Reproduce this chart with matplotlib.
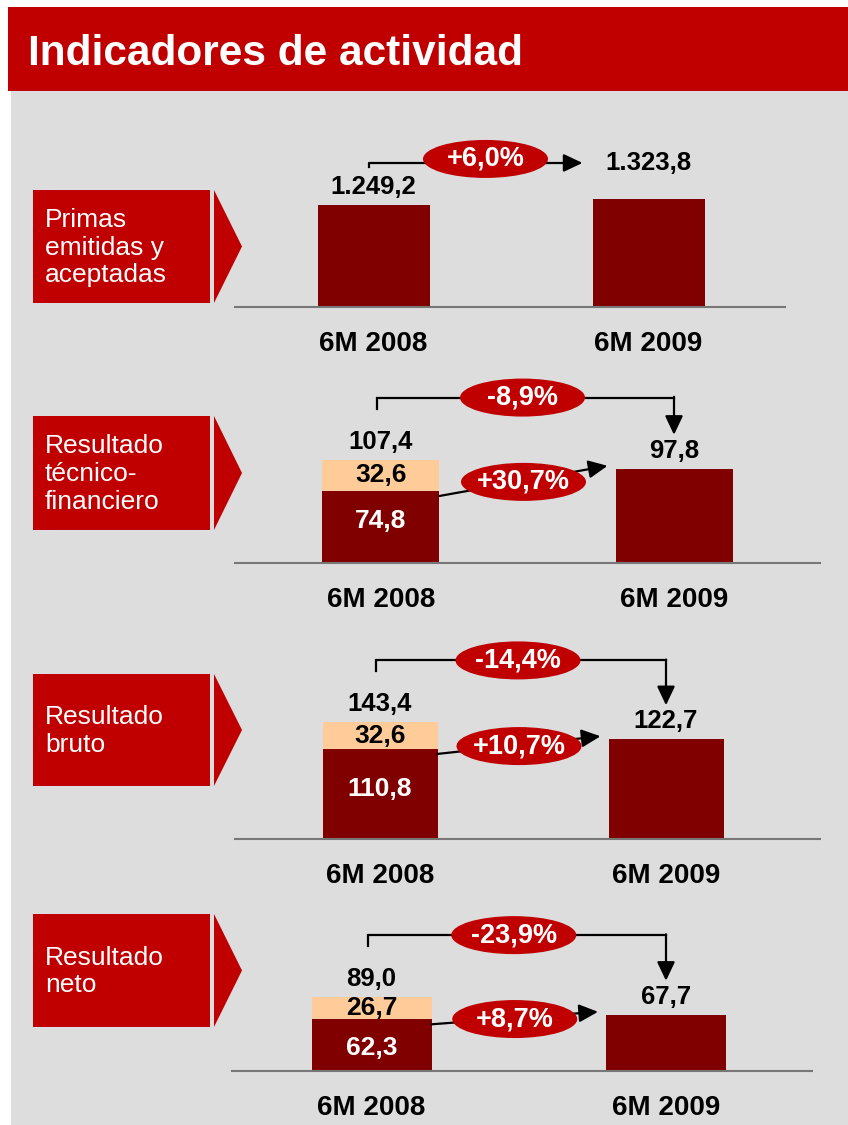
import matplotlib
matplotlib.use("Agg")
import matplotlib.pyplot as plt
from matplotlib.patches import Rectangle, Polygon, Ellipse

plt.rcParams['font.family'] = ['Liberation Sans', 'DejaVu Sans']

# data
title = "Indicadores de actividad"
categories = ["6M 2008", "6M 2009"]
row_names = ["Primas\nemitidas y\naceptadas", "Resultado\ntécnico-\nfinanciero",
             "Resultado\nbruto", "Resultado\nneto"]
prev_base = [1249.2, 74.8, 110.8, 62.3]
prev_extra = [0.0, 32.6, 32.6, 26.7]
prev_total = [1249.2, 107.4, 143.4, 89.0]
curr_values = [1323.8, 97.8, 122.7, 67.7]
growth_total = ["+6,0%", "-8,9%", "-14,4%", "-23,9%"]
growth_base = [None, "+30,7%", "+10,7%", "+8,7%"]

# colours
RED = '#C00000'
DARK = '#800000'
LIGHT = '#FFCC99'
GREY_BG = '#DDDDDD'

W, H = 848, 1125

# layout of each row, in pixels: baseline, left, right, bar centres, bar width, px per unit
rows = [
    dict(base=307, left=235, right=785, c0=373.5, c1=648.5, bw=112, scale=0.0817, box=(190, 303)),
    dict(base=563, left=235, right=820, c0=381, c1=674, bw=117, scale=0.963, box=(416, 530)),
    dict(base=839, left=235, right=820, c0=380, c1=666, bw=115, scale=0.813, box=(674, 786)),
    dict(base=1071, left=232, right=812, c0=371.5, c1=666, bw=120, scale=0.83, box=(914, 1027)),
]
# vertical nudge of the white label inside the dark segment
inner_off = [0, 6, 5, -3]


def fmt(v):
    s = "{:,.1f}".format(v)
    return s.replace(",", "X").replace(".", ",").replace("X", ".")


fig = plt.figure(figsize=(W / 100, H / 100), dpi=100)

bg = fig.add_axes([0, 0, 1, 1], zorder=0)
bg.set_xlim(0, W)
bg.set_ylim(H, 0)
bg.axis('off')
bg.add_patch(Rectangle((11, 91), W - 11, H - 91, color=GREY_BG, lw=0))
bg.add_patch(Rectangle((8, 7), W - 8, 84, color=RED, lw=0))
bg.text(28, 65, title, color='white', fontsize=30.5, fontweight='bold', va='baseline')

ov = fig.add_axes([0, 0, 1, 1], zorder=3)
ov.set_xlim(0, W)
ov.set_ylim(H, 0)
ov.axis('off')
ov.patch.set_alpha(0)


def to_px(ax, x, y):
    dx, dy = ax.transData.transform((x, y))
    return dx, H - dy


def arrow(p_from, p_to):
    ov.annotate('', xy=p_to, xytext=p_from,
                arrowprops=dict(arrowstyle='-|>,head_length=0.72,head_width=0.34',
                                mutation_scale=16, color='black', lw=1.6,
                                shrinkA=0, shrinkB=0))


def bubble(cx, cy, txt):
    ov.add_patch(Ellipse((cx, cy), 125, 38, color=RED, lw=0, zorder=5))
    ov.text(cx, cy, txt, color='white', fontsize=19.5, fontweight='bold',
            ha='center', va='center', zorder=6)


for i, r in enumerate(rows):
    # label box with arrow tip
    top, bot = r['box']
    bg.add_patch(Rectangle((33, top), 177, bot - top, color=RED, lw=0))
    bg.add_patch(Polygon([(214, top), (242, (top + bot) / 2), (214, bot)],
                         closed=True, color=RED, lw=0))
    bg.text(45, (top + bot) / 2 + 1, row_names[i], color='white', fontsize=19,
            va='center', ha='left', linespacing=1.2)

    span = 220
    ax = fig.add_axes([r['left'] / W, 1 - r['base'] / H, (r['right'] - r['left']) / W, span / H],
                      zorder=1)
    ax.patch.set_alpha(0)
    spacing = r['c1'] - r['c0']
    ax.set_xlim((r['left'] - r['c0']) / spacing, (r['right'] - r['c0']) / spacing)
    ax.set_ylim(0, span / r['scale'])
    for s in ['top', 'left', 'right']:
        ax.spines[s].set_visible(False)
    ax.spines['bottom'].set_color('#777777')
    ax.spines['bottom'].set_linewidth(1.5)
    ax.set_xticks([])
    ax.set_yticks([])

    w = r['bw'] / spacing
    ax.bar(0, prev_base[i], w, color=DARK)
    if prev_extra[i] > 0:
        ax.bar(0, prev_extra[i], w, bottom=prev_base[i], color=LIGHT)
    ax.bar(1, curr_values[i], w, color=DARK)

    ax.annotate(fmt(prev_total[i]), (0, prev_total[i]), xytext=(0, 18), textcoords='offset pixels',
                ha='center', va='center', fontsize=18.5, fontweight='bold')
    off1 = 36 if i == 0 else 18
    ax.annotate(fmt(curr_values[i]), (1, curr_values[i]), xytext=(0, off1), textcoords='offset pixels',
                ha='center', va='center', fontsize=18.5, fontweight='bold')
    if prev_extra[i] > 0:
        ax.annotate(fmt(prev_extra[i]), (0, prev_base[i] + prev_extra[i] / 2), ha='center', va='center',
                    fontsize=19, fontweight='bold')
        ax.annotate(fmt(prev_base[i]), (0, prev_base[i] / 2), xytext=(0, inner_off[i]),
                    textcoords='offset pixels', ha='center', va='center', fontsize=19,
                    fontweight='bold', color='white')
    for j, cat in enumerate(categories):
        ax.annotate(cat, (j, 0), xytext=(0, -37), textcoords='offset pixels', ha='center', va='center',
                    fontsize=20, fontweight='bold', annotation_clip=False)

    # connectors
    x0c, y0t = to_px(ax, 0, prev_total[i])
    x1c, y1t = to_px(ax, 1, curr_values[i])
    x1l = to_px(ax, 1 - w / 2, curr_values[i])[0]
    if i == 0:
        xt = x0c - 5
        yl = y0t - 42
        ov.plot([xt, xt, x1l - 24], [y0t - 38, yl, yl], color='black', lw=1.6)
        arrow((x1l - 26, yl), (x1l - 10, yl))
        bubble((xt + x1l - 10) / 2 + 10, yl - 4, growth_total[i])
    else:
        xt = x0c - 4
        yl = y0t - 62
        ov.plot([xt, xt, x1c], [y0t - 51, yl, yl], color='black', lw=1.6,
                solid_joinstyle='miter')
        arrow((x1c, yl - 0.8), (x1c, y1t - 34))
        bubble((xt + x1c) / 2 - 3, yl, growth_total[i])

        # growth of the comparable base
        xs, ys = to_px(ax, w / 2, prev_base[i])
        xe, ye = to_px(ax, 1 - w / 2, curr_values[i])
        p0 = (xs, ys + 5)
        p1 = (xe - 8, ye - 3)
        arrow(p0, p1)
        bubble((p0[0] + p1[0]) / 2, (p0[1] + p1[1]) / 2 + 1, growth_base[i])

fig.savefig("out.png", dpi=100)
